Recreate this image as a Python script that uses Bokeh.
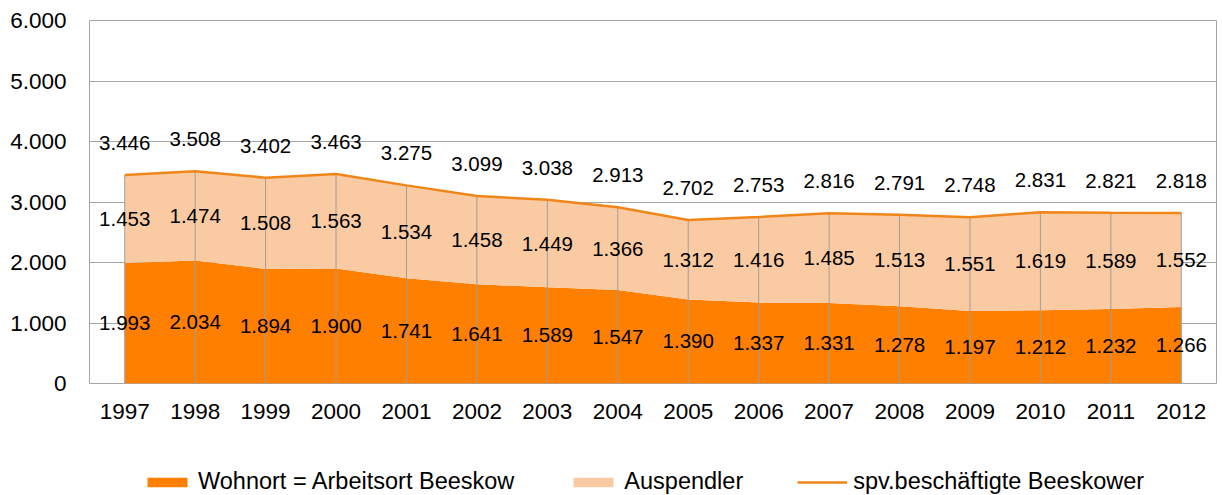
from bokeh.plotting import figure
from bokeh.layouts import column
from bokeh.models import (ColumnDataSource, FixedTicker, Legend, LegendItem, Range1d)
from bokeh.core.properties import value
from bokeh.embed import file_html
from bokeh.resources import INLINE

years = [1997, 1998, 1999, 2000, 2001, 2002, 2003, 2004, 2005, 2006, 2007, 2008, 2009, 2010, 2011, 2012]
wohnort = [1993, 2034, 1894, 1900, 1741, 1641, 1589, 1547, 1390, 1337, 1331, 1278, 1197, 1212, 1232, 1266]
auspendler = [1453, 1474, 1508, 1563, 1534, 1458, 1449, 1366, 1312, 1416, 1485, 1513, 1551, 1619, 1589, 1552]
gesamt = [3446, 3508, 3402, 3463, 3275, 3099, 3038, 2913, 2702, 2753, 2816, 2791, 2748, 2831, 2821, 2818]
y_ticks = [0, 1000, 2000, 3000, 4000, 5000, 6000]
series_names = ["Wohnort = Arbeitsort Beeskow", "Auspendler", "spv.beschäftigte Beeskower"]

C_DARK = "#FF7F00"
C_LIGHT = "#FACBA3"
C_LINE = "#F0861A"
C_GRID = "#A6A6A6"
FONT = "Liberation Sans"


def de(n):
    return f"{n:,}".replace(",", ".")


src = ColumnDataSource(dict(
    year=years,
    wohnort=wohnort,
    auspendler=auspendler,
    gesamt=gesamt,
    zero=[0] * len(years),
    w_mid=[w / 2 for w in wohnort],
    a_mid=[w + a / 2 for w, a in zip(wohnort, auspendler)],
    w_lab=[de(v) for v in wohnort],
    a_lab=[de(v) for v in auspendler],
    g_lab=[de(v) for v in gesamt],
))

p = figure(frame_width=1127, frame_height=363,
           min_border_left=89, min_border_right=6, min_border_top=20, min_border_bottom=45,
           x_range=Range1d(years[0] - 0.5, years[-1] + 0.5),
           y_range=Range1d(y_ticks[0], y_ticks[-1]),
           output_backend="svg", toolbar_location=None)

p.background_fill_color = "white"
p.border_fill_color = "white"
p.outline_line_color = C_GRID
p.outline_line_width = 1

areas = p.varea_stack(["wohnort", "auspendler"], x="year", source=src,
                      color=[C_DARK, C_LIGHT])
p.segment(x0="year", y0="zero", x1="year", y1="gesamt", source=src,
          line_color="#9E9E9E", line_width=1)
ln = p.line(x="year", y="gesamt", source=src, line_color=C_LINE, line_width=2.5)

common = dict(source=src, text_font=value(FONT), text_font_size="20.5px",
              text_color="black", text_align="center", text_baseline="middle")
p.text(x="year", y="w_mid", text="w_lab", **common)
p.text(x="year", y="a_mid", text="a_lab", **common)
p.text(x="year", y="gesamt", text="g_lab", y_offset=-32, **common)

# axes
p.xaxis.ticker = FixedTicker(ticks=years)
p.xaxis.major_label_overrides = {y: str(y) for y in years}
p.yaxis.ticker = FixedTicker(ticks=y_ticks)
p.yaxis.major_label_overrides = {t: de(t) for t in y_ticks}
for ax in (p.xaxis, p.yaxis):
    ax.axis_line_color = None
    ax.major_tick_line_color = None
    ax.minor_tick_line_color = None
    ax.major_label_text_font = FONT
    ax.major_label_text_font_size = "22.5px"
    ax.major_label_text_color = "black"
p.yaxis.major_label_standoff = 17
p.xaxis.major_label_standoff = 14

p.xgrid.grid_line_color = None
p.ygrid.ticker = FixedTicker(ticks=y_ticks)
p.ygrid.grid_line_color = C_GRID
p.ygrid.grid_line_width = 1

# legend strip: a second figure whose frame holds only the legend
lg = figure(width=1222, height=67, x_range=Range1d(0, 1), y_range=Range1d(0, 1),
            x_axis_type=None, y_axis_type=None, min_border=0,
            output_backend="svg", toolbar_location=None)
lg.outline_line_color = None
lg.background_fill_color = "white"
lg.border_fill_color = "white"
# same series styles; the data lie outside this strip's ranges, so only the legend shows
r1 = lg.varea(x="year", y1="zero", y2="wohnort", source=src, fill_color=C_DARK)
r2 = lg.varea(x="year", y1="wohnort", y2="gesamt", source=src, fill_color=C_LIGHT)
r3 = lg.line(x="year", y="gesamt", source=src, line_color=C_LINE, line_width=2.5)

legend = Legend(items=[
    LegendItem(label=series_names[0], renderers=[r1]),
    LegendItem(label=series_names[1], renderers=[r2]),
    LegendItem(label=series_names[2], renderers=[r3]),
], orientation="horizontal", location=(53, 0))
legend.glyph_width = 50
legend.glyph_height = 12
legend.label_standoff = 6
legend.spacing = 54
legend.padding = 0
legend.margin = 0
legend.border_line_color = None
legend.background_fill_alpha = 0
legend.label_text_font = FONT
legend.label_text_font_size = "23.5px"
legend.label_text_color = "black"
lg.add_layout(legend, "center")

layout = column(p, lg, spacing=0)
open("out.html", "w").write(file_html(layout, INLINE))
